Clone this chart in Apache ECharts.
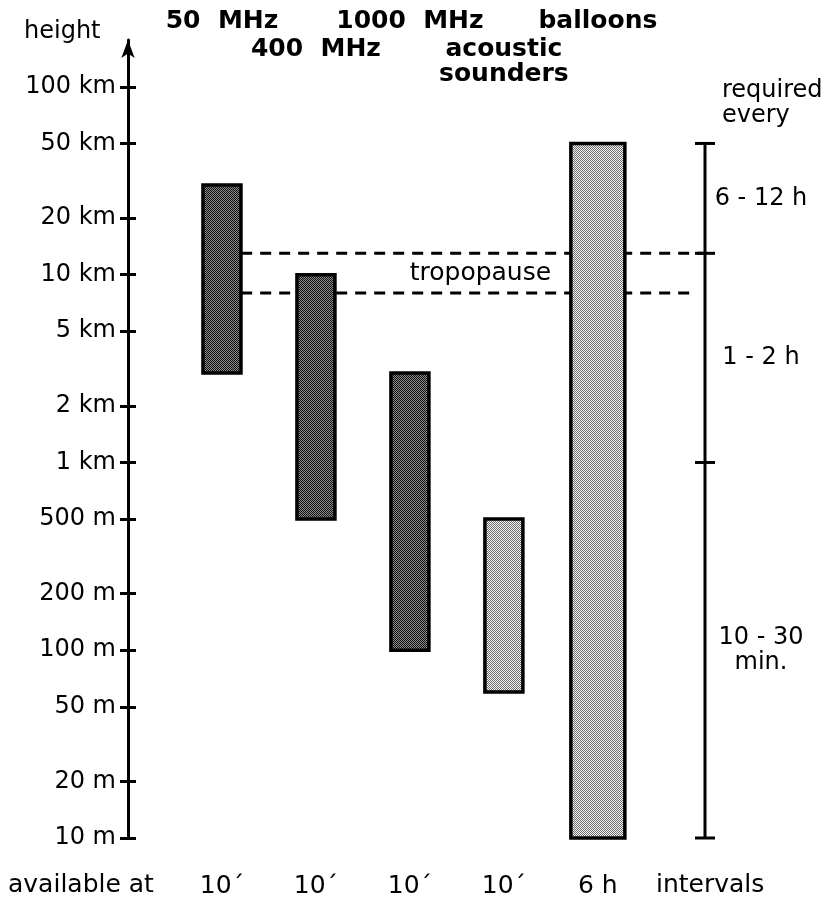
<!DOCTYPE html>
<html><head><meta charset="utf-8">
<script src="https://cdn.jsdelivr.net/npm/echarts@6/dist/echarts.min.js"></script>
<style>html,body{margin:0;padding:0;background:#fff}#c{width:835px;height:900px}</style>
</head><body><div id="c"></div>
<script>
// ---- data ----
const instruments = ['50  MHz', '400  MHz', '1000  MHz', 'acoustic\nsounders', 'balloons'];
const labelRow = [0, 1, 0, 1, 0];
const lowM = [3000, 500, 100, 60, 10];
const highM = [30000, 10000, 3000, 500, 50000];
const shade = ['dark', 'dark', 'dark', 'light', 'light'];
const availability = ['10\u00b4', '10\u00b4', '10\u00b4', '10\u00b4', '6 h'];
const tickValues = [10, 20, 50, 100, 200, 500, 1000, 2000, 5000, 10000, 20000, 50000, 100000];
const tickLabels = ['10 m', '20 m', '50 m', '100 m', '200 m', '500 m', '1 km', '2 km', '5 km', '10 km', '20 km', '50 km', '100 km'];
const tropopause = [8000, 13000];
const requiredBounds = [10, 1000, 13000, 50000];
const requiredLabels = ['10 - 30\nmin.', '1 - 2 h', '6 - 12 h'];

// ---- rendering ----
const FONT = 'DejaVu Sans';
const X_MIN = -1, X_MAX = 5.14;

function makePattern(a, b) {
  const c = document.createElement('canvas'); c.width = 4; c.height = 4;
  const g = c.getContext('2d');
  g.fillStyle = b; g.fillRect(0, 0, 4, 4);
  g.fillStyle = a;
  for (let y = 0; y < 4; y++) for (let x = 0; x < 4; x++) if ((x + y) % 2 === 0) g.fillRect(x, y, 1, 1);
  return c;
}
const patterns = { dark: makePattern('#111111', '#8a8a8a'), light: makePattern('#6e6e6e', '#f4f4f4') };

function labelFor(v) {
  let best = 0, bd = Infinity;
  tickValues.forEach((t, i) => { const d = Math.abs(Math.log10(t) - Math.log10(v)); if (d < bd) { bd = d; best = i; } });
  return tickLabels[best];
}

const chart = echarts.init(document.getElementById('c'), null, { renderer: 'canvas' });
chart.setOption({
  animation: false,
  backgroundColor: '#fff',
  grid: { left: 128, right: 130, top: 40, bottom: 62 },
  xAxis: {
    type: 'value', min: X_MIN, max: X_MAX,
    axisLine: { show: false, onZero: false }, axisTick: { show: false }, splitLine: { show: false },
    axisLabel: {
      customValues: [0, 1, 2, 3, 4],
      formatter: v => availability[Math.round(v)],
      fontFamily: FONT, fontSize: 25, color: '#000', margin: 36
    }
  },
  yAxis: [{
    type: 'log', logBase: 10, min: 10, max: Math.pow(10, 5.25),
    axisLine: { show: true, onZero: false, lineStyle: { color: '#000', width: 3 }, symbol: ['none', 'arrow'], symbolSize: [10, 18] },
    axisTick: { show: true, inside: false, length: 8, lineStyle: { color: '#000', width: 3 }, customValues: tickValues },
    axisLabel: { customValues: tickValues, formatter: v => labelFor(v), fontFamily: FONT, fontSize: 24, color: '#000', margin: 12 },
    splitLine: { show: false }
  }, {
    type: 'log', logBase: 10, min: 10, max: Math.pow(10, 5.25), position: 'left', offset: 0,
    axisLine: { show: false, onZero: false },
    axisTick: { show: true, inside: true, length: 8, lineStyle: { color: '#000', width: 3 }, customValues: tickValues },
    axisLabel: { show: false }, splitLine: { show: false }
  }],
  graphic: [
    { type: 'text', left: 24, top: 20, style: { text: 'height', font: '24px "DejaVu Sans"', fill: '#000' } },
    { type: 'text', left: 722, top: 78, style: { text: 'required\nevery', font: '24px "DejaVu Sans"', lineHeight: 25, fill: '#000' } },
    { type: 'text', left: 8, top: 873, style: { text: 'available at', font: '25px "DejaVu Sans"', fill: '#000' } },
    { type: 'text', left: 656, top: 873, style: { text: 'intervals', font: '25px "DejaVu Sans"', fill: '#000' } }
  ],
  series: [
    {
      type: 'custom', name: 'tropopause', coordinateSystem: 'cartesian2d', clip: false,
      data: tropopause.map(v => [v]),
      renderItem(params, api) {
        const v = api.value(0);
        const a = api.coord([-0.2, v]), b = api.coord([params.dataIndex === 1 ? X_MAX : 5.0, v]);
        const children = [{
          type: 'line', shape: { x1: a[0], y1: a[1], x2: b[0], y2: b[1] },
          style: { stroke: '#000', lineWidth: 3, lineDash: [11, 8] }
        }];
        if (params.dataIndex === 0) {
          const mid = Math.sqrt(tropopause[0] * tropopause[1]);
          const m = api.coord([2.75, mid]);
          children.push({ type: 'text', style: { x: m[0], y: m[1], text: 'tropopause', align: 'center', verticalAlign: 'middle', font: '25px "DejaVu Sans"', fill: '#000' } });
        }
        return { type: 'group', children };
      }
    },
    {
      type: 'custom', name: 'bars', coordinateSystem: 'cartesian2d', clip: false,
      data: instruments.map((n, i) => [i, lowM[i], highM[i]]),
      renderItem(params, api) {
        const i = api.value(0);
        const p0 = api.coord([i, api.value(1)]);
        const p1 = api.coord([i, api.value(2)]);
        const w = i === instruments.length - 1 ? 54 : 38;
        return {
          type: 'rect',
          shape: { x: p0[0] - w / 2, y: p1[1], width: w, height: p0[1] - p1[1] },
          style: { fill: { image: patterns[shade[i]], repeat: 'repeat' }, stroke: '#000', lineWidth: 3.5 }
        };
      }
    },
    {
      type: 'custom', name: 'names', coordinateSystem: 'cartesian2d', clip: false,
      data: instruments.map((n, i) => [i, 100000]),
      renderItem(params, api) {
        const i = api.value(0);
        const x = api.coord([i, api.value(1)])[0];
        return {
          type: 'text',
          style: {
            x: x, y: labelRow[i] ? 37 : 9, text: instruments[i], align: 'center', verticalAlign: 'top',
            font: 'bold 25px "DejaVu Sans"', lineHeight: 25, fill: '#000'
          }
        };
      }
    },
    {
      type: 'custom', name: 'required', coordinateSystem: 'cartesian2d', clip: false,
      data: [[0]],
      renderItem(params, api) {
        const bot = api.coord([X_MAX, requiredBounds[0]]);
        const top = api.coord([X_MAX, requiredBounds[requiredBounds.length - 1]]);
        const children = [{ type: 'line', shape: { x1: bot[0], y1: bot[1], x2: top[0], y2: top[1] }, style: { stroke: '#000', lineWidth: 3 } }];
        requiredBounds.forEach(v => {
          const p = api.coord([X_MAX, v]);
          children.push({ type: 'line', shape: { x1: p[0] - 10, y1: p[1], x2: p[0] + 10, y2: p[1] }, style: { stroke: '#000', lineWidth: 3 } });
        });
        requiredLabels.forEach((t, k) => {
          const mid = Math.sqrt(requiredBounds[k] * requiredBounds[k + 1]);
          const p = api.coord([X_MAX, mid]);
          children.push({ type: 'text', style: { x: p[0] + 56, y: p[1], text: t, align: 'center', verticalAlign: 'middle', font: '24px "DejaVu Sans"', lineHeight: 25, fill: '#000' } });
        });
        return { type: 'group', children };
      }
    }
  ]
});
</script></body></html>
